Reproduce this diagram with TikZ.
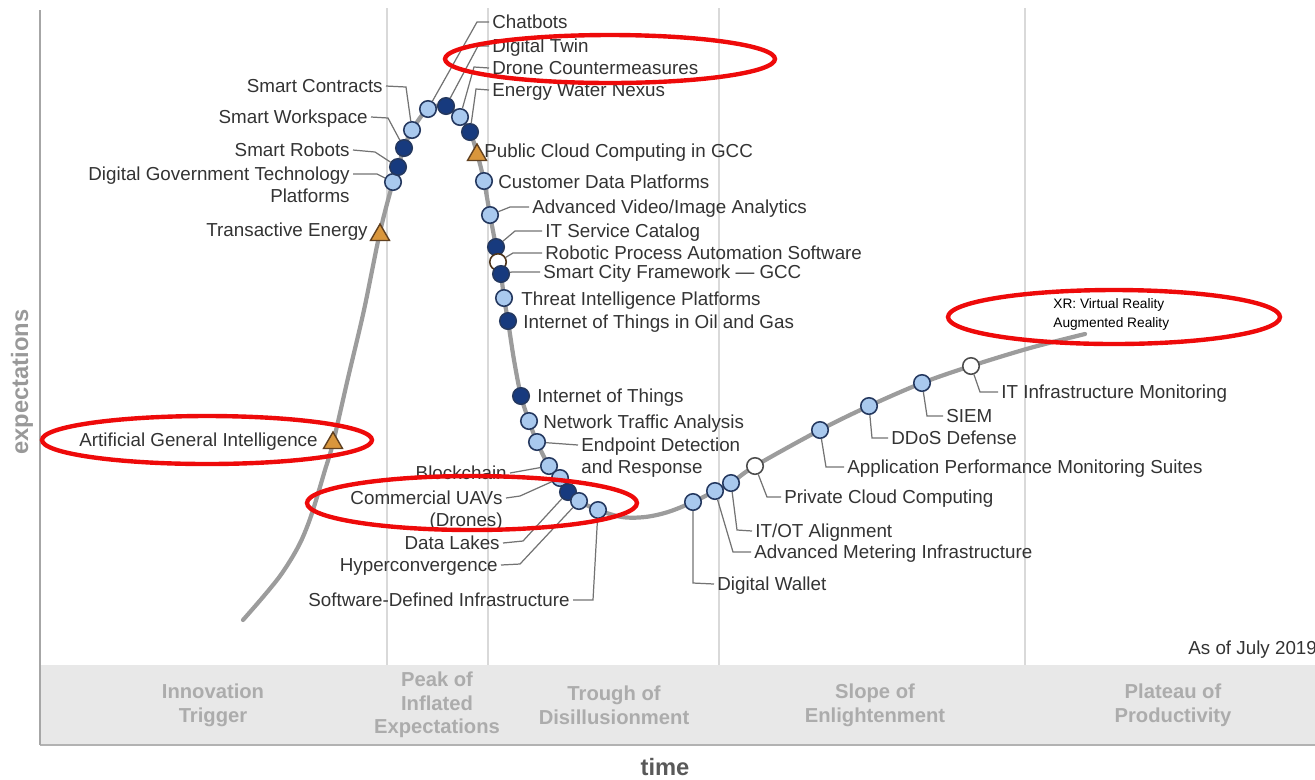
\documentclass[tikz,border=0pt]{standalone}
\usepackage{fontspec}
\setmainfont{Liberation Sans}
\usetikzlibrary{shapes.geometric,positioning}
\definecolor{lblue}{HTML}{A9C9EE}
\definecolor{navy}{HTML}{173A7E}
\definecolor{rim}{HTML}{24385F}
\definecolor{amber}{HTML}{D9963C}
\definecolor{ringred}{HTML}{EE0A0A}

\begin{document}
\begin{tikzpicture}[x=0.02cm,y=-0.02cm,
  hype/.style={draw=gray!78,line width=2.4pt,line cap=round},
  lb/.style={circle,draw=rim,fill=lblue,line width=0.9pt,minimum size=0.33cm,inner sep=0pt},
  db/.style={lb,fill=navy},
  wc/.style={lb,fill=white,draw=black!70},
  tri/.style={regular polygon,regular polygon sides=3,draw=brown!50!black,fill=amber,line width=0.8pt,minimum size=0.44cm,inner sep=0pt},
  lab/.style={font=\fontsize{10.7}{12}\selectfont,text=black!80,inner xsep=0.06cm,inner ysep=0pt},
  one/.style={lab,text height=7.5pt,text depth=0pt},
  phase/.style={font=\bfseries\fontsize{11.5}{13.5}\selectfont,text=gray!65,align=center},
  lead/.style={draw=black!55,line width=0.7pt},
  ring/.style={draw=ringred,line width=2.5pt}]
\useasboundingbox (0,0) rectangle (1315,779);
\fill[gray!18] (40,665) rectangle (1315,745);
\draw[gray!60,line width=1pt] (40,745) -- (1315,745);
\foreach \x in {387,488,719,1025} \draw[gray!30,line width=1.2pt] (\x,8) -- (\x,665);
\draw[gray!70,line width=1.1pt] (40,10) -- (40,745);
\node[phase] (pIT) at (213,705) {Innovation\\Trigger};
\node[phase] (pPK) at (437,705) {Peak of\\Inflated\\Expectations};
\node[phase] (pTR) at (614,705) {Trough of\\Disillusionment};
\node[phase] (pSL) at (875,705) {Slope of\\Enlightenment};
\node[phase] (pPL) at (1173,705) {Plateau of\\Productivity};
\node[font=\bfseries\fontsize{13.5}{15}\selectfont,text=black!65] (tm) at (665,767) {time};
\node[font=\bfseries\fontsize{13.5}{15}\selectfont,text=gray!80,rotate=90] (ex) at (22,382) {expectations};
\node[one,anchor=west] (asof) at (1185,648) {As of July 2019};
\draw[hype] plot[smooth,tension=0.55] coordinates {(243,620) (263,597) (280,576) (293,556) (302,539) (310,519) (317,497) (325,470) (333,443) (348,378) (364,310) (380,232) (393,182) (398,167) (404,148) (412,130) (428,109) (446,106) (460,117) (470,132) (477,153) (484,181) (490,215) (496,247) (498,262) (501,274) (504,298) (508,321) (514,360) (521,396) (529,421) (537,442) (549,466) (560,478) (568,492) (579,501) (598,510) (622,517) (645,517) (668,512) (693,502) (715,491) (731,483) (755,466) (820,430) (869,406) (922,383) (971,366) (1030,348) (1085,334)};
\node[tri] (mAGI) at (333,443) {};
\node[tri] (mTE) at (380,235) {};
\node[lb] (mDG) at (393,182) {};
\node[db] (mSR) at (398,167) {};
\node[db] (mSW) at (404,148) {};
\node[lb] (mSC) at (412,130) {};
\node[lb] (mCB) at (428,109) {};
\node[db] (mDT) at (446,106) {};
\node[lb] (mDC) at (460,117) {};
\node[db] (mEW) at (470,132) {};
\node[tri] (mPC) at (477,155) {};
\node[lb] (mCD) at (484,181) {};
\node[lb] (mAV) at (490,215) {};
\node[db] (mIS) at (496,247) {};
\node[wc,draw=brown!40!black] (mRP) at (498,262) {};
\node[db] (mSF) at (501,274) {};
\node[lb] (mTI) at (504,298) {};
\node[db] (mIO) at (508,321) {};
\node[db] (mIT) at (521,396) {};
\node[lb] (mNT) at (529,421) {};
\node[lb] (mED) at (537,442) {};
\node[lb] (mBC) at (549,466) {};
\node[lb] (mCU) at (560,478) {};
\node[db] (mDL) at (568,492) {};
\node[lb] (mHC) at (579,501) {};
\node[lb] (mSD) at (598,510) {};
\node[lb] (mDW) at (693,502) {};
\node[lb] (mAM) at (715,491) {};
\node[lb] (mOT) at (731,483) {};
\node[wc] (mPV) at (755,466) {};
\node[lb] (mAP) at (820,430) {};
\node[lb] (mDD) at (869,406) {};
\node[lb] (mSI) at (922,383) {};
\node[wc] (mIM) at (971,366) {};
\node[one,anchor=east] (lAGI) at (321,440) {Artificial General Intelligence};
\node[one,anchor=east] (lTE) at (371,230) {Transactive Energy};
\node[lab,anchor=north east,align=right] (lDG) at (353,167) {Digital Government Technology\\Platforms};
\node[one,anchor=east] (lSR) at (353,150) {Smart Robots};
\node[one,anchor=east] (lSW) at (371,117) {Smart Workspace};
\node[one,anchor=east] (lSC) at (386,86) {Smart Contracts};
\node[one,anchor=west] (lCB) at (489,22) {Chatbots};
\node[one,anchor=west] (lDT) at (489,46) {Digital Twin};
\node[one,anchor=west] (lDC) at (489,68) {Drone Countermeasures};
\node[one,anchor=west] (lEW) at (489,90) {Energy Water Nexus};
\node[one,anchor=west] (lPC) at (481,151) {Public Cloud Computing in GCC};
\node[one,anchor=west] (lCD) at (495,182) {Customer Data Platforms};
\node[one,anchor=west] (lAV) at (529,207) {Advanced Video/Image Analytics};
\node[one,anchor=west] (lIS) at (542,231) {IT Service Catalog};
\node[one,anchor=west] (lRP) at (542,253) {Robotic Process Automation Software};
\node[one,anchor=west] (lSF) at (540,272) {Smart City Framework --- GCC};
\node[one,anchor=west] (lTI) at (518,299) {Threat Intelligence Platforms};
\node[one,anchor=west] (lIO) at (520,322) {Internet of Things in Oil and Gas};
\node[one,anchor=west] (lIT) at (534,396) {Internet of Things};
\node[one,anchor=west] (lNT) at (540,422) {Network Traffic Analysis};
\node[lab,anchor=north west,align=left] (lED) at (578,438) {Endpoint Detection\\and Response};
\node[one,anchor=east] (lBC) at (510,473) {Blockchain};
\node[lab,anchor=north east,align=right] (lCU) at (506,491) {Commercial UAVs\\(Drones)};
\node[one,anchor=east] (lDL) at (503,543) {Data Lakes};
\node[one,anchor=east] (lHC) at (501,565) {Hyperconvergence};
\node[one,anchor=east] (lSD) at (573,600) {Software-Defined Infrastructure};
\node[one,anchor=west] (lDW) at (714,584) {Digital Wallet};
\node[one,anchor=west] (lAM) at (751,552) {Advanced Metering Infrastructure};
\node[one,anchor=west] (lOT) at (752,531) {IT/OT Alignment};
\node[one,anchor=west] (lPV) at (781,497) {Private Cloud Computing};
\node[one,anchor=west] (lAP) at (844,467) {Application Performance Monitoring Suites};
\node[one,anchor=west] (lDD) at (888,438) {DDoS Defense};
\node[one,anchor=west] (lSI) at (943,416) {SIEM};
\node[one,anchor=west] (lIM) at (998,392) {IT Infrastructure Monitoring};
\node[font=\fontsize{7.8}{11}\selectfont,anchor=north west,align=left,inner sep=0pt] (lXR) at (1053,298) {XR: Virtual Reality\\Augmented Reality};
\draw[lead] (lSC.east) -- (406,87) -- (mSC);
\draw[lead] (lSW.east) -- (388,118) -- (mSW);
\draw[lead] (lSR.east) -- (375,152) -- (mSR);
\draw[lead] ([yshift=-0.14cm]lDG.north east) -- (377,174) -- (mDG);
\draw[lead] (lCB.west) -- (477,22) -- (mCB);
\draw[lead] (lDT.west) -- (478,46) -- (mDT);
\draw[lead] (lDC.west) -- (474,67) -- (mDC);
\draw[lead] (lEW.west) -- (476,89) -- (mEW);
\draw[lead] (mAV) -- (510,207) -- (lAV.west);
\draw[lead] (mIS) -- (515,231) -- (lIS.west);
\draw[lead] (mRP) -- (513,253) -- (lRP.west);
\draw[lead] (mSF) -- (512,272) -- (lSF.west);
\draw[lead] (mED) -- ([yshift=-0.14cm]lED.north west);
\draw[lead] (lBC.east) -- (mBC);
\draw[lead] ([yshift=-0.14cm]lCU.north east) -- (520,496) -- (mCU);
\draw[lead] (lDL.east) -- (523,541) -- (mDL);
\draw[lead] (lHC.east) -- (520,564) -- (mHC);
\draw[lead] (lSD.east) -- (593,600) -- (mSD);
\draw[lead] (mDW) -- (693,583) -- (lDW.west);
\draw[lead] (mAM) -- (733,552) -- (lAM.west);
\draw[lead] (mOT) -- (737,530) -- (lOT.west);
\draw[lead] (mPV) -- (767,497) -- (lPV.west);
\draw[lead] (mAP) -- (826,467) -- (lAP.west);
\draw[lead] (mDD) -- (872,438) -- (lDD.west);
\draw[lead] (mSI) -- (927,416) -- (lSI.west);
\draw[lead] (mIM) -- (980,392) -- (lIM.west);
\draw[ring] (610,59) ellipse [x radius=3.3cm,y radius=0.48cm];
\draw[ring] (1114,317) ellipse [x radius=3.32cm,y radius=0.54cm];
\draw[ring] (207,440) ellipse [x radius=3.3cm,y radius=0.48cm];
\draw[ring] (472,503) ellipse [x radius=3.3cm,y radius=0.54cm];
\end{tikzpicture}
\end{document}
